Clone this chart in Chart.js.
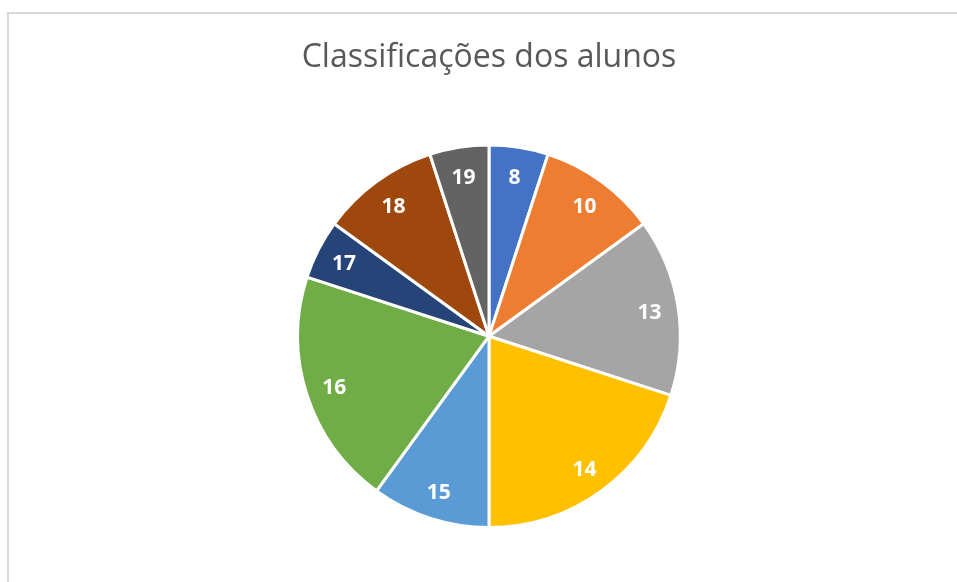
<!DOCTYPE html>
<html>
<head>
<meta charset="utf-8">
<script src="https://cdn.jsdelivr.net/npm/chart.js@4"></script>
<style>
  html, body { margin: 0; padding: 0; background: #fff; overflow: hidden; }
  #frame { position: absolute; left: 7px; top: 12px; width: 1200px; height: 1200px; border: 2px solid #d9d9d9; }
  #wrap { position: absolute; left: 0; top: 0; width: 957px; height: 582px; }
</style>
</head>
<body>
<div id="frame"></div>
<div id="wrap"><canvas id="pieChart"></canvas></div>
<script>
// Notas (categorias) e número de alunos
const notas = ['8', '10', '13', '14', '15', '16', '17', '18', '19'];
const alunos = [1, 2, 3, 4, 2, 4, 1, 2, 1];
const cores = ['#4472C4', '#ED7D31', '#A5A5A5', '#FFC000', '#5B9BD5', '#70AD47', '#264478', '#9E480E', '#636363'];

// Rótulos brancos dentro das fatias
const rotulosPlugin = {
    id: 'rotulos',
    afterDatasetsDraw(chart) {
        const ctx = chart.ctx;
        const meta = chart.getDatasetMeta(0);
        ctx.save();
        ctx.fillStyle = '#ffffff';
        ctx.font = 'bold 21px "Open Sans"';
        ctx.textAlign = 'center';
        ctx.textBaseline = 'middle';
        meta.data.forEach(function (arc, i) {
            const p = arc.getProps(['x', 'y', 'startAngle', 'endAngle', 'outerRadius'], true);
            const mid = (p.startAngle + p.endAngle) / 2;
            const r = p.outerRadius * 0.85;
            ctx.fillText(notas[i], p.x + Math.cos(mid) * r, p.y + Math.sin(mid) * r + 2);
        });
        ctx.restore();
    }
};

const ctx = document.getElementById('pieChart').getContext('2d');
new Chart(ctx, {
    type: 'pie',
    data: {
        labels: notas,
        datasets: [{
            data: alunos,
            backgroundColor: cores,
            borderColor: '#ffffff',
            borderWidth: 3
        }]
    },
    options: {
        responsive: true,
        maintainAspectRatio: false,
        animation: false,
        layout: {
            padding: { left: 21, right: 0, top: 0, bottom: 53 }
        },
        plugins: {
            legend: { display: false },
            tooltip: { enabled: false },
            title: {
                display: true,
                text: 'Classificações dos alunos',
                color: '#595959',
                font: { family: '"Open Sans"', size: 32, weight: 'normal', lineHeight: 1.2 },
                padding: { top: 39, bottom: 66 }
            }
        }
    },
    plugins: [rotulosPlugin]
});
</script>
</body>
</html>
